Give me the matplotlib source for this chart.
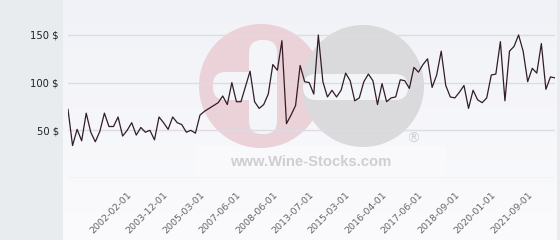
import numpy as np
import matplotlib
matplotlib.use('Agg')
import matplotlib.pyplot as plt
from matplotlib.patches import Circle, FancyBboxPatch, Rectangle

# price per bottle, one point per sale
prices = [72, 34, 51, 39, 68, 48, 38, 49, 68, 54,
          54, 64, 44, 50, 58, 45, 53, 48, 50, 40,
          64, 58, 51, 64, 58, 56, 48, 50, 47, 66,
          70, 73, 76, 79, 86, 77, 100, 80, 80, 96,
          112, 80, 73, 77, 88, 119, 113, 144,
          57, 66, 76, 118, 101, 100, 88, 150, 101, 85,
          92, 85, 92, 110, 102, 81, 84, 101, 109, 102,
          77, 99, 80, 84, 85, 103, 102, 94, 116, 111,
          119, 125, 95, 108, 133, 97, 85, 84, 90, 97,
          73, 92, 82, 79, 84, 108, 109, 143, 81, 133,
          138, 150, 133, 101, 115, 110, 141, 93, 106, 105]

tick_labels = ['2002-02-01', '2003-12-01', '2005-03-01', '2007-06-01',
               '2008-06-01', '2013-07-01', '2015-03-01', '2016-04-01',
               '2017-06-01', '2018-09-01', '2020-01-01', '2021-09-01']
first_tick = 13
tick_step = 8

y_ticks = [0, 50, 100, 150]
y_tick_labels = ['', '50 $', '100 $', '150 $']

W, H = 560, 240
fig = plt.figure(figsize=(W / 100, H / 100), dpi=100)
fig.patch.set_facecolor('#e8ecef')

# light plot panel with a faint vertical gradient
bg = fig.add_axes([63 / W, 0, 494 / W, 1])
grad = np.linspace(0, 1, 256).reshape(-1, 1)
cmap = matplotlib.colors.LinearSegmentedColormap.from_list('bg', ['#f1f2f7', '#fbfbfd'])
bg.imshow(grad, aspect='auto', cmap=cmap, extent=[0, 1, 0, 1], origin='upper')
bg.set_axis_off()

# watermark, drawn in pixel coordinates
wm = fig.add_axes([0, 0, 1, 1])
wm.set_xlim(0, W)
wm.set_ylim(H, 0)
wm.set_axis_off()
wm.patch.set_alpha(0)
wm.add_patch(Rectangle((196, 146), 250, 32, color='#f9f9fb', lw=0))
wm.add_patch(Circle((261, 86), 62, color='#ebd1d8', lw=0))
wm.add_patch(Circle((363, 86), 61, color='#dadadc', lw=0))
wm.add_patch(FancyBboxPatch((303, 74), 105, 26, boxstyle='round,pad=0,rounding_size=13',
                            color='#f4f5f9', lw=0))
wm.add_patch(FancyBboxPatch((249, 40), 28, 94, boxstyle='round,pad=0,rounding_size=13',
                            color='#f4f5f9', lw=0))
wm.add_patch(FancyBboxPatch((213, 72), 60, 28, boxstyle='round,pad=0,rounding_size=13',
                            color='#f4f5f9', lw=0))
wm.text(311, 162, 'www.Wine-Stocks.com', ha='center', va='center', fontsize=10.6,
        fontweight='bold', color='#cfcfd2', family='Liberation Sans')
wm.text(413, 139, '®', ha='center', va='center', fontsize=10, color='#d0d0d3')

ax = fig.add_axes([68 / W, (H - 178) / H, 487 / W, 176.4 / H])
ax.patch.set_alpha(0)
x = np.arange(len(prices))
ax.plot(x, prices, color='#321c28', lw=0.9, zorder=3)
ax.set_xlim(0, len(prices) - 1)
ax.set_ylim(0, 185)

ax.set_yticks(y_ticks)
ax.set_yticklabels(y_tick_labels)
ax.yaxis.grid(True, color='#dcdce2', lw=1)
ax.set_axisbelow(True)

tick_pos = [first_tick + tick_step * i for i in range(len(tick_labels))]
ax.set_xticks(tick_pos)
ax.set_xticklabels(tick_labels, rotation=45, ha='right', va='top', rotation_mode='anchor')

ax.tick_params(axis='y', length=0, pad=6.5, labelsize=7.2, labelcolor='#222222')
ax.tick_params(axis='x', length=0, pad=9, labelsize=6.8, labelcolor='#666666')
for s in ax.spines.values():
    s.set_visible(False)

fig.savefig('out.png', dpi=100, facecolor=fig.get_facecolor())
